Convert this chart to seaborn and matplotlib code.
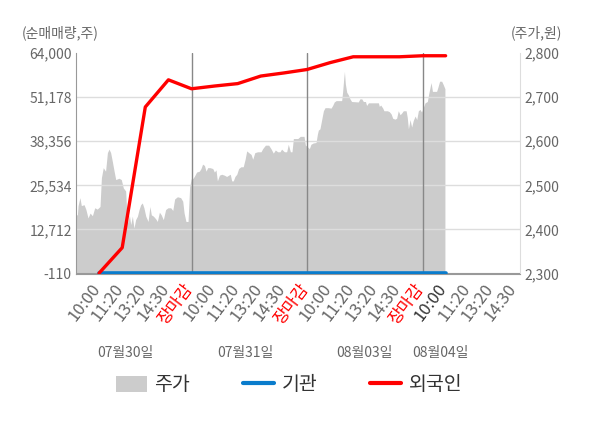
import matplotlib
matplotlib.use("Agg")
import matplotlib.pyplot as plt
import matplotlib.transforms as mtransforms
from matplotlib.patches import Patch
from matplotlib.lines import Line2D
from matplotlib.ticker import FuncFormatter
import seaborn as sns
import pandas as pd

# ---------- data ----------
slot_labels = ["10:00", "11:20", "13:20", "14:30", "장마감"] * 3 + ["10:00", "11:20", "13:20", "14:30"]
day_labels = ["07월30일", "07월31일", "08월03일", "08월04일"]

flow_t = list(range(1, 17))
foreign = [0, 7400, 48300, 56200, 53600, 54400, 55100, 57300,
           58200, 59200, 61200, 62900, 62900, 62900, 63200, 63200]
institution = [0] * 16

price_t = [0.00, 0.06, 0.09, 0.17, 0.23, 0.35, 0.43, 0.52, 0.61, 0.71, 0.81, 0.92,
           1.04, 1.10, 1.18, 1.28, 1.36, 1.43, 1.50, 1.57, 1.65, 1.72, 1.86, 1.96,
           2.05, 2.15, 2.19, 2.25, 2.31, 2.37, 2.44, 2.51, 2.58, 2.66, 2.73, 2.80,
           2.87, 2.94, 3.02, 3.12, 3.20, 3.26, 3.35, 3.45, 3.52, 3.61, 3.69, 3.78,
           3.88, 3.98, 4.10, 4.19, 4.27, 4.39, 4.53, 4.62, 4.68, 4.76, 4.85, 4.92,
           4.99, 5.05, 5.12, 5.22, 5.34, 5.41, 5.48, 5.56, 5.63, 5.70, 5.80, 5.92,
           5.99, 6.06, 6.12, 6.21, 6.31, 6.42, 6.52, 6.61, 6.68, 6.74, 6.81, 6.88,
           6.96, 7.04, 7.14, 7.24, 7.32, 7.39, 7.48, 7.58, 7.65, 7.74, 7.86, 8.01,
           8.08, 8.20, 8.34, 8.44, 8.54, 8.63, 8.73, 8.83, 8.90, 9.02, 9.12, 9.19,
           9.28, 9.35, 9.41, 9.60, 9.71, 9.87, 9.93, 10.01, 10.10, 10.17, 10.27, 10.39,
           10.45, 10.49, 10.56, 10.64, 10.71, 10.78, 10.92, 11.04, 11.11, 11.18, 11.26, 11.50,
           11.54, 11.59, 11.62, 11.66, 11.72, 11.79, 11.86, 11.93, 12.22, 12.29, 12.37, 12.44,
           12.53, 12.58, 12.66, 13.09, 13.13, 13.19, 13.28, 13.33, 13.48, 13.56, 13.64, 13.71,
           13.81, 13.88, 13.95, 14.03, 14.10, 14.17, 14.29, 14.34, 14.39, 14.46, 14.53, 14.60,
           14.68, 14.75, 14.82, 14.89, 14.96, 15.04, 15.11, 15.21, 15.27, 15.33, 15.37, 15.43,
           15.61, 15.67, 15.74, 15.83, 15.90, 15.97]
price_v = [2433, 2433, 2454, 2472, 2454, 2456, 2445, 2426, 2437, 2431, 2449, 2446,
           2452, 2517, 2540, 2532, 2574, 2582, 2574, 2555, 2532, 2513, 2516, 2513,
           2494, 2487, 2445, 2415, 2433, 2411, 2430, 2403, 2422, 2430, 2445, 2456,
           2460, 2449, 2430, 2418, 2452, 2433, 2430, 2424, 2418, 2439, 2433, 2422,
           2445, 2449, 2449, 2443, 2469, 2474, 2472, 2464, 2437, 2418, 2418, 2497,
           2515, 2515, 2520, 2530, 2532, 2538, 2548, 2545, 2532, 2540, 2540, 2538,
           2530, 2535, 2510, 2523, 2525, 2523, 2520, 2523, 2525, 2510, 2510, 2520,
           2525, 2538, 2542, 2542, 2559, 2578, 2574, 2570, 2559, 2574, 2576, 2576,
           2583, 2591, 2591, 2583, 2573, 2580, 2576, 2576, 2582, 2576, 2576, 2593,
           2576, 2576, 2606, 2606, 2611, 2611, 2591, 2588, 2583, 2593, 2596, 2597,
           2616, 2625, 2628, 2650, 2669, 2676, 2676, 2675, 2681, 2689, 2692, 2692,
           2711, 2742, 2758, 2730, 2711, 2705, 2696, 2690, 2689, 2696, 2696, 2690,
           2690, 2681, 2687, 2687, 2679, 2682, 2675, 2669, 2669, 2667, 2662, 2652,
           2650, 2652, 2669, 2660, 2664, 2669, 2669, 2654, 2628, 2649, 2632, 2647,
           2657, 2649, 2669, 2672, 2666, 2677, 2687, 2690, 2708, 2723, 2733, 2713,
           2713, 2723, 2736, 2736, 2728, 2719]

left_ticks = [-110, 12712, 25534, 38356, 51178, 64000]
right_ticks = [2300, 2400, 2500, 2600, 2700, 2800]

flow = pd.DataFrame({"t": flow_t, "foreign": foreign, "institution": institution})

# ---------- style ----------
sns.set_style("white")
plt.rcParams["font.family"] = ["Noto Sans CJK KR", "DejaVu Sans"]

grey_txt = "#666666"
area_col = "#cccccc"
blue = "#0a7ccc"
red = "#ff0000"

fig = plt.figure(figsize=(6, 4.28), dpi=100)
ax = fig.add_axes([76 / 600, 1 - 273.5 / 428, 444 / 600, 220.5 / 428])
ax2 = ax.twinx()
ax.set_zorder(ax2.get_zorder() + 1)
ax.patch.set_visible(False)
ax2.patch.set_facecolor("#f5f5f5")

# price area on the right axis
ax2.fill_between(price_t, price_v, 2300, color=area_col, linewidth=0)
ax2.set_ylim(2300, 2800)
ax2.set_yticks(right_ticks)
ax2.yaxis.set_major_formatter(FuncFormatter(lambda v, p: f"{int(v):,}"))
ax2.tick_params(axis="y", length=0, labelsize=10, labelcolor=grey_txt, pad=3)

# grid and day separators
for v in left_ticks[1:-1]:
    ax.axhline(v, color="#dddddd", linewidth=1, zorder=1)
for d in [5, 10, 15]:
    ax.axvline(d, color="#888888", linewidth=1, zorder=2)
ax.axhline(0, color="#999999", linewidth=0.8, zorder=2)

# net buying lines
sns.lineplot(data=flow, x="t", y="institution", ax=ax, color=blue, linewidth=2.6, zorder=3)
sns.lineplot(data=flow, x="t", y="foreign", ax=ax, color=red, linewidth=2.4, zorder=4)

ax.set_xlim(0, 19.22)
ax.set_ylim(-110, 64000)
ax.set_yticks(left_ticks)
ax.yaxis.set_major_formatter(FuncFormatter(lambda v, p: f"{int(v):,}"))
ax.tick_params(axis="y", length=0, labelsize=10, labelcolor=grey_txt, pad=3)
ax.set_xlabel("")
ax.set_ylabel("")
ax2.set_ylabel("")

ax.set_xticks(range(1, 20))
ax.set_xticklabels(slot_labels, rotation=53, ha="right", fontsize=12)
ax.tick_params(axis="x", which="major", length=0, pad=5)
shift = mtransforms.ScaledTranslation(5 / 100, 0, fig.dpi_scale_trans)
for i, lab in enumerate(ax.get_xticklabels()):
    lab.set_transform(lab.get_transform() + shift)
    if lab.get_text() == "장마감":
        lab.set_color(red)
    elif i == 15:
        lab.set_color("#333333")
    else:
        lab.set_color(grey_txt)
ax.set_xticks([0, 5, 10, 15, 19.22], minor=True)
ax.tick_params(axis="x", which="minor", length=4, color="#999999", width=1)

for s in ["top"]:
    ax.spines[s].set_visible(False)
    ax2.spines[s].set_visible(False)
ax.spines["left"].set_color("#999999")
ax.spines["bottom"].set_color("#999999")
ax.spines["right"].set_visible(False)
ax2.spines["left"].set_visible(False)
ax2.spines["bottom"].set_visible(False)
ax2.spines["right"].set_color("#dddddd")

# axis captions
fig.text(22 / 600, 1 - 33 / 428, "(순매매량,주)", fontsize=10, color=grey_txt, va="center", ha="left")
fig.text(562 / 600, 1 - 33 / 428, "(주가,원)", fontsize=10, color=grey_txt, va="center", ha="right")

# date labels
label_x = [2.12, 7.32, 12.5, 15.76]
for xpos, txt in zip(label_x, day_labels):
    ax.text(xpos, -(353 - 273.5) / 220.5, txt, transform=ax.get_xaxis_transform(),
            fontsize=10, color=grey_txt, ha="center", va="center")

handles = [Patch(facecolor=area_col, edgecolor="none"),
           Line2D([], [], color=blue, linewidth=3),
           Line2D([], [], color=red, linewidth=3)]
fig.legend(handles, ["주가", "기관", "외국인"], loc="center", ncol=3,
           bbox_to_anchor=(289 / 600, 1 - 385 / 428), frameon=False,
           fontsize=14, handlelength=1.6, handleheight=0.9, handletextpad=0.4,
           columnspacing=2.7, labelcolor="#333333")

fig.savefig("out.png", dpi=100)
